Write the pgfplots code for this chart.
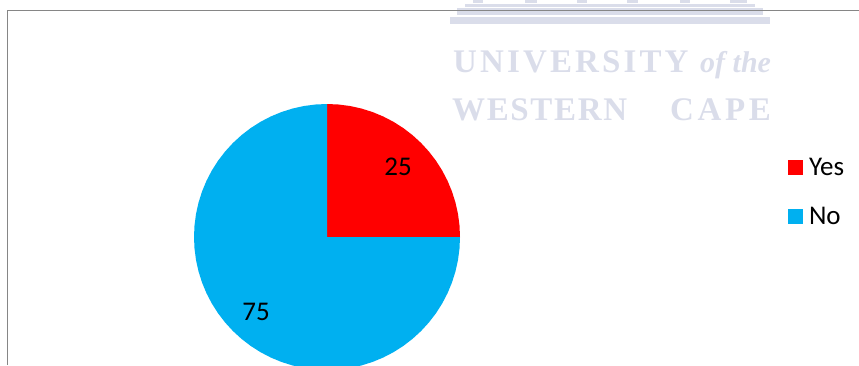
\documentclass[border=0pt]{standalone}
\usepackage{pgfplots}
\pgfplotsset{compat=1.18}
\usepackage{fontspec}
\setmainfont{Carlito}
\newfontfamily\wmU{Liberation Serif}[LetterSpace=9.5]
\newfontfamily\wmW{Liberation Serif}[LetterSpace=5]
\newfontfamily\wmC{Liberation Serif}[LetterSpace=11]
\newfontfamily\wmI{Liberation Serif}
\definecolor{pieBlue}{HTML}{00B0F0}
\definecolor{frameGray}{HTML}{868686}
\definecolor{wm}{HTML}{DADDEA}
\begin{document}
\begin{tikzpicture}
\begin{axis}[
  scale only axis, width=859pt, height=365pt,
  xmin=-327, xmax=532, ymin=-128, ymax=237,
  hide axis, clip=true,
  legend style={draw=none, fill=none, at={(axis cs:461,79)}, anchor=north west,
    font=\fontsize{27}{27}\selectfont, inner sep=0pt, outer sep=0pt,
    row sep=30pt, nodes={inner sep=0pt, anchor=west}},
  legend cell align=left,
  legend image code/.code={\fill[#1] (0pt,-7.5pt) rectangle (15pt,7.5pt);},
]
\path (rel axis cs:0,0) rectangle (rel axis cs:1,1);
% watermark fragment
\fill[wm] (axis cs:146,237) rectangle (axis cs:156,234);
\fill[wm] (axis cs:198,237) rectangle (axis cs:210,234);
\fill[wm] (axis cs:250,237) rectangle (axis cs:260,234);
\fill[wm] (axis cs:300,237) rectangle (axis cs:311,234);
\fill[wm] (axis cs:353,237) rectangle (axis cs:363,234);
\fill[wm] (axis cs:403,237) rectangle (axis cs:420,234);
\fill[wm] (axis cs:138,233) rectangle (axis cs:428,230);
\fill[wm] (axis cs:130,229) rectangle (axis cs:436,222);
\fill[wm] (axis cs:123,220) rectangle (axis cs:443,213);
\node[wm, anchor=base west, inner sep=0pt, font=\fontsize{33}{33}\selectfont\wmU\bfseries] at (axis cs:126,165) {UNIVERSITY};
\node[wm, anchor=base west, inner sep=0pt, font=\fontsize{30}{30}\selectfont\wmI\itshape\bfseries] at (axis cs:373,165) {of the};
\node[wm, anchor=base west, inner sep=0pt, font=\fontsize{33}{33}\selectfont\wmW\bfseries] at (axis cs:125,117) {WESTERN};
\node[wm, anchor=base west, inner sep=0pt, font=\fontsize{33}{33}\selectfont\wmC\bfseries] at (axis cs:343,117) {CAPE};
% frame
\draw[frameGray, line width=1.8pt] (axis cs:-319.5,-128) -- (axis cs:-319.5,226.5) -- (axis cs:532,226.5);
% slices
\addplot[fill=red, draw=none, data cs=polar] coordinates {
(0,0) (90,133) (85,133) (80,133) (75,133) (70,133) (65,133) (60,133) (55,133) (50,133) (45,133)
(40,133) (35,133) (30,133) (25,133) (20,133) (15,133) (10,133) (5,133) (0,133)};
\addlegendentry{\hspace{6pt}Yes}
\addplot[fill=pieBlue, draw=none, data cs=polar] coordinates {
(0,0) (0,133) (-5,133) (-10,133) (-15,133) (-20,133) (-25,133) (-30,133) (-35,133) (-40,133) (-45,133)
(-50,133) (-55,133) (-60,133) (-65,133) (-70,133) (-75,133) (-80,133) (-85,133) (-90,133)
(-95,133) (-100,133) (-105,133) (-110,133) (-115,133) (-120,133) (-125,133) (-130,133) (-135,133)
(-140,133) (-145,133) (-150,133) (-155,133) (-160,133) (-165,133) (-170,133) (-175,133) (-180,133)
(-185,133) (-190,133) (-195,133) (-200,133) (-205,133) (-210,133) (-215,133) (-220,133) (-225,133)
(-230,133) (-235,133) (-240,133) (-245,133) (-250,133) (-255,133) (-260,133) (-265,133) (-270,133)};
\addlegendentry{\hspace{6pt}No}
\node[font=\fontsize{27}{27}\selectfont] at (axis cs:71,70) {25};
\node[font=\fontsize{27}{27}\selectfont] at (axis cs:-71,-75) {75};
\end{axis}
\end{tikzpicture}
\end{document}
